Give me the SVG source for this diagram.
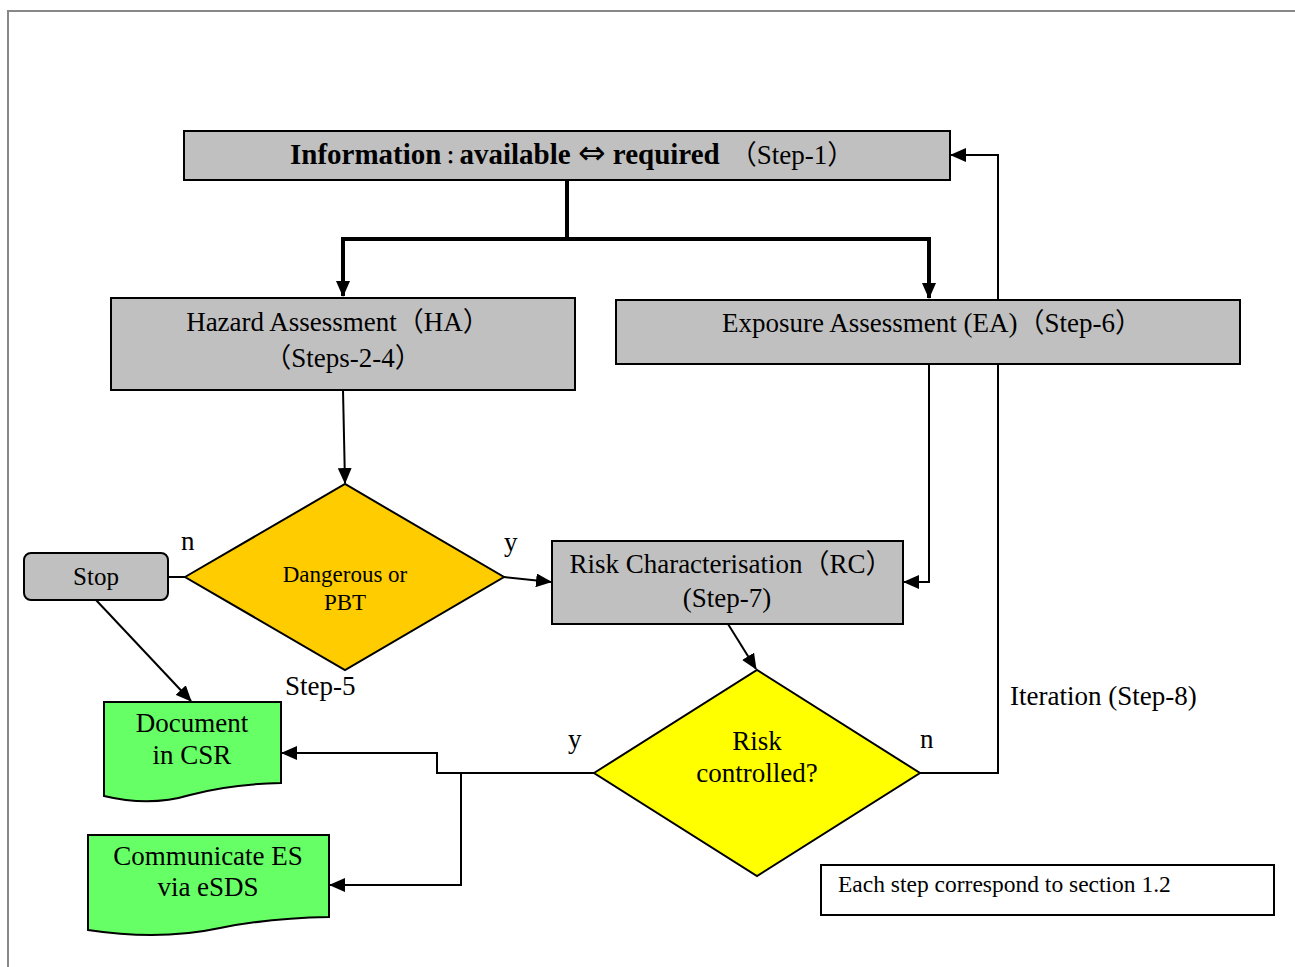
<svg xmlns="http://www.w3.org/2000/svg" width="1295" height="967" viewBox="0 0 1295 967">
<style>
  text { font-family: "Liberation Serif", "Times New Roman", serif; fill: #000; }
  .cjk { font-family: "Noto Sans CJK JP", "Noto Sans CJK SC", sans-serif; }
  .sym { font-family: "DejaVu Sans", sans-serif; font-weight: normal; }
  .t27 { font-size: 27px; }
  .mid { text-anchor: middle; }
  .box { fill: #c0c0c0; stroke: #000; stroke-width: 2; }
  .doc { fill: #66ff66; stroke: #000; stroke-width: 2; }
  .ln { fill: none; stroke: #000; stroke-width: 2; }
  .thick { fill: none; stroke: #000; stroke-width: 4; }
</style>
<defs>
  <marker id="ah" markerUnits="userSpaceOnUse" markerWidth="16" markerHeight="14" refX="15" refY="7" orient="auto">
    <path d="M0,0 L16,7 L0,14 Z" fill="#000"/>
  </marker>
</defs>
<rect width="1295" height="967" fill="#fff"/>
<path d="M8,967 V11 H1295" fill="none" stroke="#888" stroke-width="2"/>

<g id="connectors">
  <path class="thick" d="M567,180 V239 H343 V296" marker-end="url(#ah)"/>
  <path class="thick" d="M567,239 H929 V298" marker-end="url(#ah)"/>
  <path class="ln" d="M343,390 L345,483" marker-end="url(#ah)"/>
  <path class="ln" d="M168,577 H185"/>
  <path class="ln" d="M504,577 L551,582" marker-end="url(#ah)"/>
  <path class="ln" d="M929,364 V582 H904" marker-end="url(#ah)"/>
  <path class="ln" d="M728,624 L756,669" marker-end="url(#ah)"/>
  <path class="ln" d="M920,773 H998 V155 H951" marker-end="url(#ah)"/>
  <path class="ln" d="M594,773 H437 V753 H282" marker-end="url(#ah)"/>
  <path class="ln" d="M461,773 V885 H330" marker-end="url(#ah)"/>
  <path class="ln" d="M96,600 L191,701" marker-end="url(#ah)"/>
</g>

<g id="info">
  <rect class="box" x="184" y="131" width="766" height="49"/>
  <text x="290" y="164" font-size="29"><tspan font-weight="bold">Information</tspan><tspan class="cjk" font-size="18" font-weight="bold">：</tspan><tspan font-weight="bold">available </tspan><tspan class="sym" font-size="33">⇔</tspan><tspan font-weight="bold"> required</tspan><tspan class="cjk" font-size="27" dx="10">（</tspan><tspan font-size="27">Step-1</tspan><tspan class="cjk" font-size="27">）</tspan></text>
</g>

<g id="ha">
  <rect class="box" x="111" y="298" width="464" height="92"/>
  <text class="t27 mid" x="338" y="331">Hazard Assessment<tspan class="cjk">（</tspan>HA<tspan class="cjk">）</tspan></text>
  <text class="t27 mid" x="343" y="367"><tspan class="cjk">（</tspan>Steps-2-4<tspan class="cjk">）</tspan></text>
</g>

<g id="ea">
  <rect class="box" x="616" y="300" width="624" height="64"/>
  <text class="t27 mid" x="932" y="332">Exposure Assessment (EA)<tspan class="cjk">（</tspan>Step-6<tspan class="cjk">）</tspan></text>
</g>

<g id="stop">
  <rect class="box" x="24" y="553" width="144" height="47" rx="7" ry="7"/>
  <text class="mid" x="96" y="585" font-size="25">Stop</text>
</g>

<g id="dangerous">
  <polygon points="185,577 345,484 504,577 345,670" fill="#ffcc00" stroke="#000" stroke-width="2"/>
  <text class="mid" x="345" y="582" font-size="23">Dangerous or</text>
  <text class="mid" x="345" y="610" font-size="23">PBT</text>
</g>

<g id="rc">
  <rect class="box" x="552" y="541" width="351" height="83"/>
  <text class="t27 mid" x="731" y="573">Risk Characterisation<tspan class="cjk">（</tspan>RC<tspan class="cjk">）</tspan></text>
  <text class="t27 mid" x="727" y="607">(Step-7)</text>
</g>

<g id="riskctl">
  <polygon points="594,773 757,670 920,773 757,876" fill="#ffff00" stroke="#000" stroke-width="2"/>
  <text class="t27 mid" x="757" y="750">Risk</text>
  <text class="t27 mid" x="757" y="782">controlled?</text>
</g>

<g id="doccsr">
  <path class="doc" d="M104,702 H281 V783 Q230,784 190,795 Q150,807 104,796 Z"/>
  <text class="t27 mid" x="192" y="732">Document</text>
  <text class="t27 mid" x="192" y="764">in CSR</text>
</g>

<g id="esds">
  <path class="doc" d="M88,835 H329 V917 Q270,918 220,928 Q160,941 88,930 Z"/>
  <text class="t27 mid" x="208" y="865">Communicate ES</text>
  <text class="t27 mid" x="208" y="896">via eSDS</text>
</g>

<g id="note">
  <rect x="821" y="865" width="453" height="50" fill="#fff" stroke="#000" stroke-width="2"/>
  <text x="838" y="892" font-size="23.5">Each step correspond to section 1.2</text>
</g>

<g id="labels">
  <text class="t27" x="181" y="550">n</text>
  <text class="t27" x="504" y="551">y</text>
  <text class="t27" x="285" y="695">Step-5</text>
  <text class="t27" x="568" y="748">y</text>
  <text class="t27" x="920" y="748">n</text>
  <text class="t27" x="1010" y="705">Iteration (Step-8)</text>
</g>
</svg>
